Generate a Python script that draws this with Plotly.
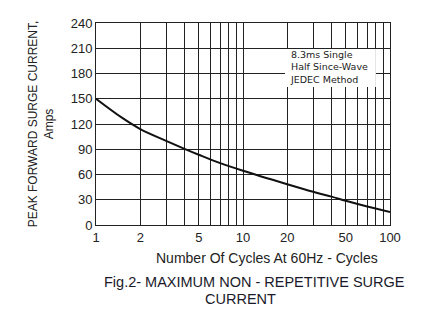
import plotly.graph_objects as go

cycles = [1, 1.5, 2, 3, 4, 5, 7, 10, 20, 30, 40, 50, 70, 100]
current = [150, 127.5, 114, 100, 90.5, 83.5, 73.5, 64.5, 48.5, 39.5, 33.7, 28.8, 22, 15.5]

x_tickvals = [1, 2, 3, 4, 5, 6, 7, 8, 9, 10, 20, 30, 40, 50, 60, 70, 80, 90, 100]
x_ticktext = ["1", "2", "", "", "5", "", "", "", "", "10", "20", "", "", "50", "", "", "", "", "100"]
y_tickvals = [0, 30, 60, 90, 120, 150, 180, 210, 240]

title_lines = ["Fig.2- MAXIMUM NON - REPETITIVE SURGE", "CURRENT"]
x_title = "Number Of Cycles At 60Hz - Cycles"
y_title = "PEAK FORWARD SURGE CURRENT,<br>Amps"
note_lines = ["8.3ms Single", "Half Since-Wave", "JEDEC Method"]

font = "Liberation Sans, Arial, sans-serif"
ink = "#222"

fig = go.Figure()
fig.add_trace(go.Scatter(x=cycles, y=current, mode="lines",
                         line=dict(color="#111", width=2, shape="spline", smoothing=1.0),
                         showlegend=False, hoverinfo="skip"))

fig.update_layout(
    width=431, height=327,
    margin=dict(l=96, r=41, t=23, b=102),
    paper_bgcolor="white", plot_bgcolor="white",
    font=dict(family=font, color=ink),
)
fig.update_xaxes(type="log", range=[0, 2], tickvals=x_tickvals, ticktext=x_ticktext,
                 showgrid=True, gridcolor=ink, gridwidth=1,
                 showline=True, linecolor=ink, linewidth=1, mirror=True,
                 ticks="", tickfont=dict(size=13, color=ink), zeroline=False)
fig.update_yaxes(range=[0, 240], tickvals=y_tickvals,
                 showgrid=True, gridcolor=ink, gridwidth=1,
                 showline=True, linecolor=ink, linewidth=1, mirror=True,
                 ticks="", tickfont=dict(size=13, color=ink),
                 title=dict(text=y_title, font=dict(size=12, color=ink), standoff=14),
                 zeroline=False)

# white box behind the note (covers grid lines)
fig.add_shape(type="rect", xref="paper", yref="paper", x0=0.643, x1=0.952, y0=0.683, y1=0.871,
              fillcolor="white", line=dict(width=0), layer="above")
fig.add_annotation(x=0.653, y=0.780, xref="paper", yref="paper",
                   xanchor="left", yanchor="middle", text="<br>".join(note_lines),
                   showarrow=False, align="left",
                   font=dict(size=9.5, color=ink, family="DejaVu Sans"))

fig.add_annotation(x=0.583, y=-0.163, xref="paper", yref="paper", xanchor="center", yanchor="middle",
                   text=x_title, showarrow=False, font=dict(size=14, color=ink, family=font))

title_x = [0.54, 0.49]
title_y = [-0.282, -0.366]
for t, tx, ty in zip(title_lines, title_x, title_y):
    fig.add_annotation(x=tx, y=ty, xref="paper", yref="paper", xanchor="center", yanchor="middle",
                       text=t, showarrow=False, font=dict(size=14.5, color="#1a1a2a", family=font))

fig.write_html("out.html")
